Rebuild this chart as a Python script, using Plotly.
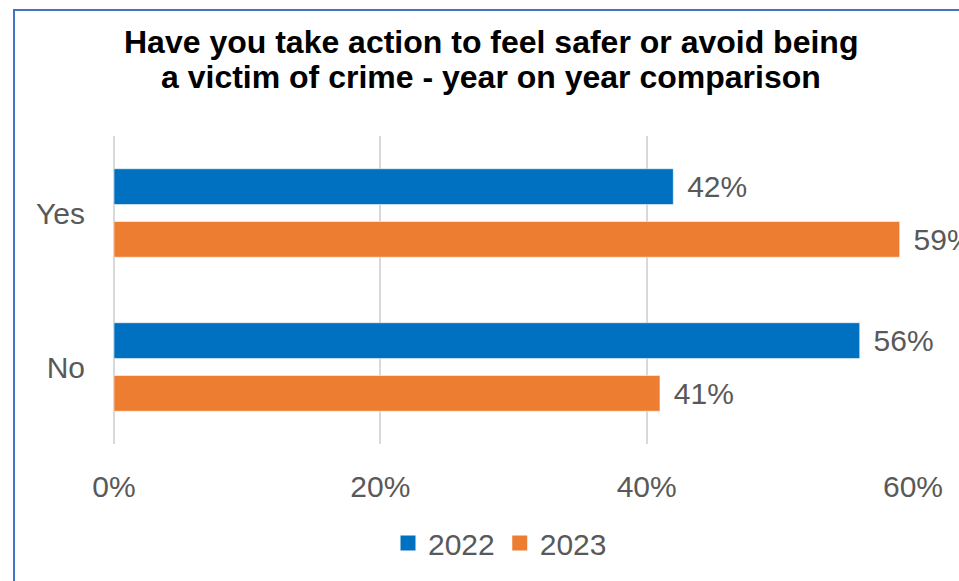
import plotly.graph_objects as go

# Survey responses by year
categories = ["Yes", "No"]
years = ["2022", "2023"]
share_2022 = [0.42, 0.56]
share_2023 = [0.59, 0.41]
x_ticks = [0, 0.2, 0.4, 0.6]
x_tick_labels = ["0%", "20%", "40%", "60%"]
title_lines = [
    "Have you take action to feel safer or avoid being",
    "a victim of crime - year on year comparison",
]

colors = {"2022": "#0070C0", "2023": "#ED7D31"}
FONT = "Liberation Sans, Arial, sans-serif"
label_font = dict(family=FONT, size=30, color="#595959")

W, H = 959, 581
L, R, T, B = 114, 46, 136, 137

def px_to_x(p):
    return (p - L) / (W - L - R)

def px_to_y(p):
    return 1 - (p - T) / (H - T - B)

fig = go.Figure()
for year, values in zip(years, [share_2022, share_2023]):
    fig.add_trace(go.Bar(
        name=year,
        y=categories,
        x=values,
        orientation="h",
        marker=dict(color=colors[year], line=dict(color="rgba(255,255,255,0.55)", width=1)),
        text=values,
        texttemplate="\u00a0\u200a%{x:.0%}",
        textposition="outside",
        textfont=label_font,
        cliponaxis=False,
        showlegend=False,
    ))
    # legend entry with a larger square swatch
    fig.add_trace(go.Scatter(
        name=year,
        x=[None], y=[None],
        mode="markers",
        marker=dict(symbol="square", size=15, color=colors[year]),
        showlegend=True,
    ))

# Outer frame around the chart area
fig.add_shape(type="rect", xref="paper", yref="paper",
              x0=px_to_x(14), x1=px_to_x(1100), y0=px_to_y(700), y1=px_to_y(10),
              line=dict(color="#4472C4", width=2), fillcolor="rgba(0,0,0,0)", layer="below")

# Two-line bold title
for line, yc in zip(title_lines, [42, 77]):
    fig.add_annotation(
        text="<b>" + line + "</b>",
        xref="paper", yref="paper",
        x=px_to_x(491), y=px_to_y(yc),
        xanchor="center", yanchor="middle",
        showarrow=False,
        font=dict(family=FONT, size=32, color="#000000"),
    )

fig.update_layout(
    width=W, height=H,
    margin=dict(l=L, r=R, t=T, b=B, pad=0),
    paper_bgcolor="white",
    plot_bgcolor="white",
    barmode="group",
    bargap=0.316,
    bargroupgap=0.32,
    xaxis=dict(
        range=[0, 0.6],
        tickvals=x_ticks,
        ticktext=x_tick_labels,
        showgrid=True, gridcolor="#D9D9D9", gridwidth=2,
        zeroline=True, zerolinecolor="#D9D9D9", zerolinewidth=2,
        showline=False,
        ticks="outside", ticklen=16, tickcolor="rgba(0,0,0,0)",
        tickfont=label_font,
    ),
    yaxis=dict(
        autorange="reversed",
        showgrid=False, zeroline=False, showline=False,
        ticks="outside", ticklen=22, tickcolor="rgba(0,0,0,0)",
        tickfont=label_font,
    ),
    legend=dict(
        orientation="h",
        x=px_to_x(500), xanchor="center",
        y=px_to_y(543), yanchor="middle",
        font=label_font,
        itemwidth=30,
    ),
    showlegend=True,
)

fig.write_html("out.html")
